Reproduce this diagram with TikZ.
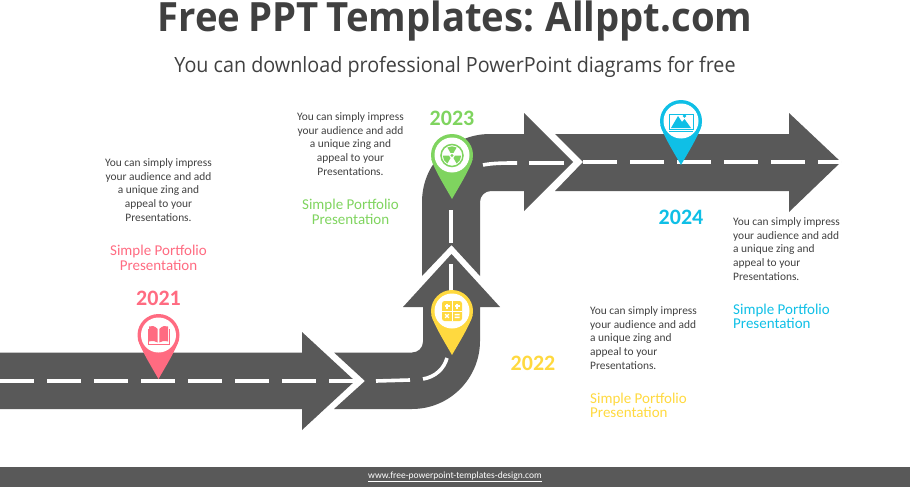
\documentclass[tikz,border=0pt]{standalone}
\usepackage{fontspec}
\setmainfont{Carlito}
\newfontfamily\headfont[FakeStretch=0.95,WordSpace=0.8]{Open Sans}
\newfontfamily\subfont[FakeStretch=0.94]{Open Sans}
\definecolor{road}{HTML}{595959}
\definecolor{ink}{HTML}{404040}
\definecolor{redpin}{HTML}{FF6B81}
\definecolor{yellowpin}{HTML}{FFD93F}
\definecolor{greenpin}{HTML}{7FD45F}
\definecolor{bluepin}{HTML}{0FBFE6}
\newcommand{\mappin}[3]{
	\fill[#3] (#1,#2) circle (21);
	\fill[#3] ($(#1,#2)+(-20.6,4)$) .. controls ($(#1,#2)+(-18,14)$) and ($(#1,#2)+(-8,30)$) .. ($(#1,#2)+(0,44)$)
		.. controls ($(#1,#2)+(8,30)$) and ($(#1,#2)+(18,14)$) .. ($(#1,#2)+(20.6,4)$) -- cycle;
	\fill[white] (#1,#2) circle (17.5);
}
\usetikzlibrary{calc}

\begin{document}
\begin{tikzpicture}[x=1pt,y=-1pt]
	\tikzset{roadbody/.style = {fill=road}}
	\tikzset{lane/.style = {draw=white, line width=3.6pt, dash pattern=on 34pt off 13pt}}
	\tikzset{lanepiece/.style = {draw=white, line width=3.6pt}}
	\tikzset{note/.style = {font=\fontsize{11.4}{13.8}\selectfont, text=ink, align=center}}
	\tikzset{noteleft/.style = {font=\fontsize{11.4}{13.8}\selectfont, text=ink, align=left, anchor=west, inner sep=0pt}}
	\tikzset{caption/.style = {font=\fontsize{15}{14.5}\selectfont, align=center}}
	\tikzset{captionleft/.style = {font=\fontsize{15}{14.5}\selectfont, align=left, anchor=west, inner sep=0pt}}
	\tikzset{year/.style = {font=\fontsize{22}{24}\selectfont\bfseries}}

	\useasboundingbox (0,0) rectangle (910,487);

	% roads
	\fill[roadbody] (0,352.5) -- (302,352.5) -- (302,332) -- (355,381) -- (302,430) -- (302,409) -- (0,409) -- cycle;
	\fill[roadbody] (334,352.5) -- (412,352.5) .. controls (418,352.5) and (423,348) .. (423,341.5) -- (423,307) -- (403,307)
		-- (451.5,254) -- (500,307) -- (480,307) -- (480,341) .. controls (480,378) and (450,409) .. (412,409) -- (334,409) -- (365,381) -- cycle;
	\fill[roadbody] (422,276) -- (451.5,245) -- (480,276) -- (480,202) .. controls (480,196) and (485,191) .. (491,191) -- (524,191) -- (524,211)
		-- (573,162) -- (524,113) -- (524,134) -- (490,134) .. controls (452,134) and (422,164) .. (422,202) -- cycle;
	\fill[roadbody] (555,134) -- (789,134) -- (789,113) -- (841,162) -- (789,212) -- (789,191) -- (555,191) -- (583,162) -- cycle;

	% lane markings
	\draw[lane] (0,381) -- (355,381);
	\draw[lanepiece] (376,381) -- (410,380);
	\draw[lanepiece] (423,379) .. controls (435,377) and (444,369) .. (447,358);
	\draw[lanepiece] (451,264) -- (451,300);
	\draw[lanepiece] (451,210) -- (451,243);
	\draw[lanepiece] (483,165) .. controls (493,163) and (505,163) .. (517,163);
	\draw[lanepiece] (529,163) -- (564,163);
	\draw[lane] (583,162) -- (841,162);

	% pins
	\mappin{158.5}{335}{redpin}
	\mappin{452}{311}{yellowpin}
	\mappin{452}{155}{greenpin}
	\mappin{681}{121}{bluepin}

	% book
	\begin{scope}[shift={(158.5,335)}, redpin]
		\fill (-.8,-6) .. controls (-4,-9.5) and (-7,-9.5) .. (-9.5,-8.5) -- (-9.5,6.5) .. controls (-6,5.5) and (-3,6) .. (-.8,7.5) -- cycle;
		\fill (.8,-6) .. controls (4,-9.5) and (7,-9.5) .. (9.5,-8.5) -- (9.5,6.5) .. controls (6,5.5) and (3,6) .. (.8,7.5) -- cycle;
		\draw[line width=.9pt] (-10.5,-6) -- (-10.5,9.5) -- (10.5,9.5) -- (10.5,-6);
	\end{scope}

	% calculator
	\begin{scope}[shift={(452,311)}]
		\fill[yellowpin, rounded corners=2.5pt] (-10,-10) rectangle (10,10);
		\draw[white, line width=.8pt] (-10,0) -- (10,0) (0,-10) -- (0,10);
		\draw[white, line width=1.4pt] (-7.5,-5) -- (-2.5,-5) (-5,-7.5) -- (-5,-2.5) (2.5,-5) -- (7.5,-5) (5,-7.5) -- (5,-2.5);
		\draw[white, line width=1.4pt] (-6.8,3.2) -- (-3.2,6.8) (-6.8,6.8) -- (-3.2,3.2) (2.5,3.6) -- (7.5,3.6) (2.5,6.4) -- (7.5,6.4);
	\end{scope}

	% radiation
	\begin{scope}[shift={(452,155.5)}, y=1pt]
		\draw[greenpin, line width=1.5pt] (0,0) circle (11);
		\fill[greenpin] (0,0) circle (1.6);
		\foreach \ang in {90,210,330}
			\fill[greenpin] (\ang-30:3) -- (\ang-30:9.2) arc[start angle=\ang-30, end angle=\ang+30, radius=9.2] -- (\ang+30:3) arc[start angle=\ang+30, end angle=\ang-30, radius=3] -- cycle;
	\end{scope}

	% picture
	\begin{scope}[shift={(681,121)}]
		\draw[bluepin, line width=1pt] (-12,-7) rectangle (12,8.5);
		\draw[bluepin, line width=1pt] (-12,10) -- (12,10);
		\fill[bluepin] (-10,7) -- (-3,-5) -- (1,1) -- (3.5,-2) -- (10,7) -- cycle;
		\fill[bluepin] (3.5,-5) circle (1.8);
	\end{scope}

	% title
	\node[font=\headfont\bfseries\fontsize{40.3}{42}\selectfont, text=ink] (title) at (455,21) {Free PPT Templates: Allppt.com};
	\node[font=\subfont\fontsize{21}{24}\selectfont, text=ink] (subtitle) at (455,66.5) {You can download professional PowerPoint diagrams for free};

	% years
	\node[year, text=redpin] (y2021) at (158.5,298) {2021};
	\node[year, text=yellowpin] (y2022) at (533,363) {2022};
	\node[year, text=greenpin] (y2023) at (452,118) {2023};
	\node[year, text=bluepin] (y2024) at (681,217) {2024};

	% notes
	\node[note] (n2021) at (158.5,190) {You can simply impress\\your audience and add\\a unique zing and\\appeal to your\\Presentations.};
	\node[note] (n2023) at (350.5,144) {You can simply impress\\your audience and add\\a unique zing and\\appeal to your\\Presentations.};
	\node[noteleft] (n2022) at (590,338) {You can simply impress\\your audience and add\\a unique zing and\\appeal to your\\Presentations.};
	\node[noteleft] (n2024) at (733,249) {You can simply impress\\your audience and add\\a unique zing and\\appeal to your\\Presentations.};

	% captions
	\node[caption, text=redpin] (c2021) at (158.5,258) {Simple Portfolio\\Presentation};
	\node[caption, text=greenpin] (c2023) at (350.5,212) {Simple Portfolio\\Presentation};
	\node[captionleft, text=yellowpin] (c2022) at (590,405.5) {Simple Portfolio\\Presentation};
	\node[captionleft, text=bluepin] (c2024) at (733,316.5) {Simple Portfolio\\Presentation};

	% footer
	\fill[road] (0,467) rectangle (910,487);
	\node[font=\fontsize{9.5}{13}\selectfont, text=white] (footer) at (455,477) {\underline{www.free-powerpoint-templates-design.com}};
\end{tikzpicture}
\end{document}
